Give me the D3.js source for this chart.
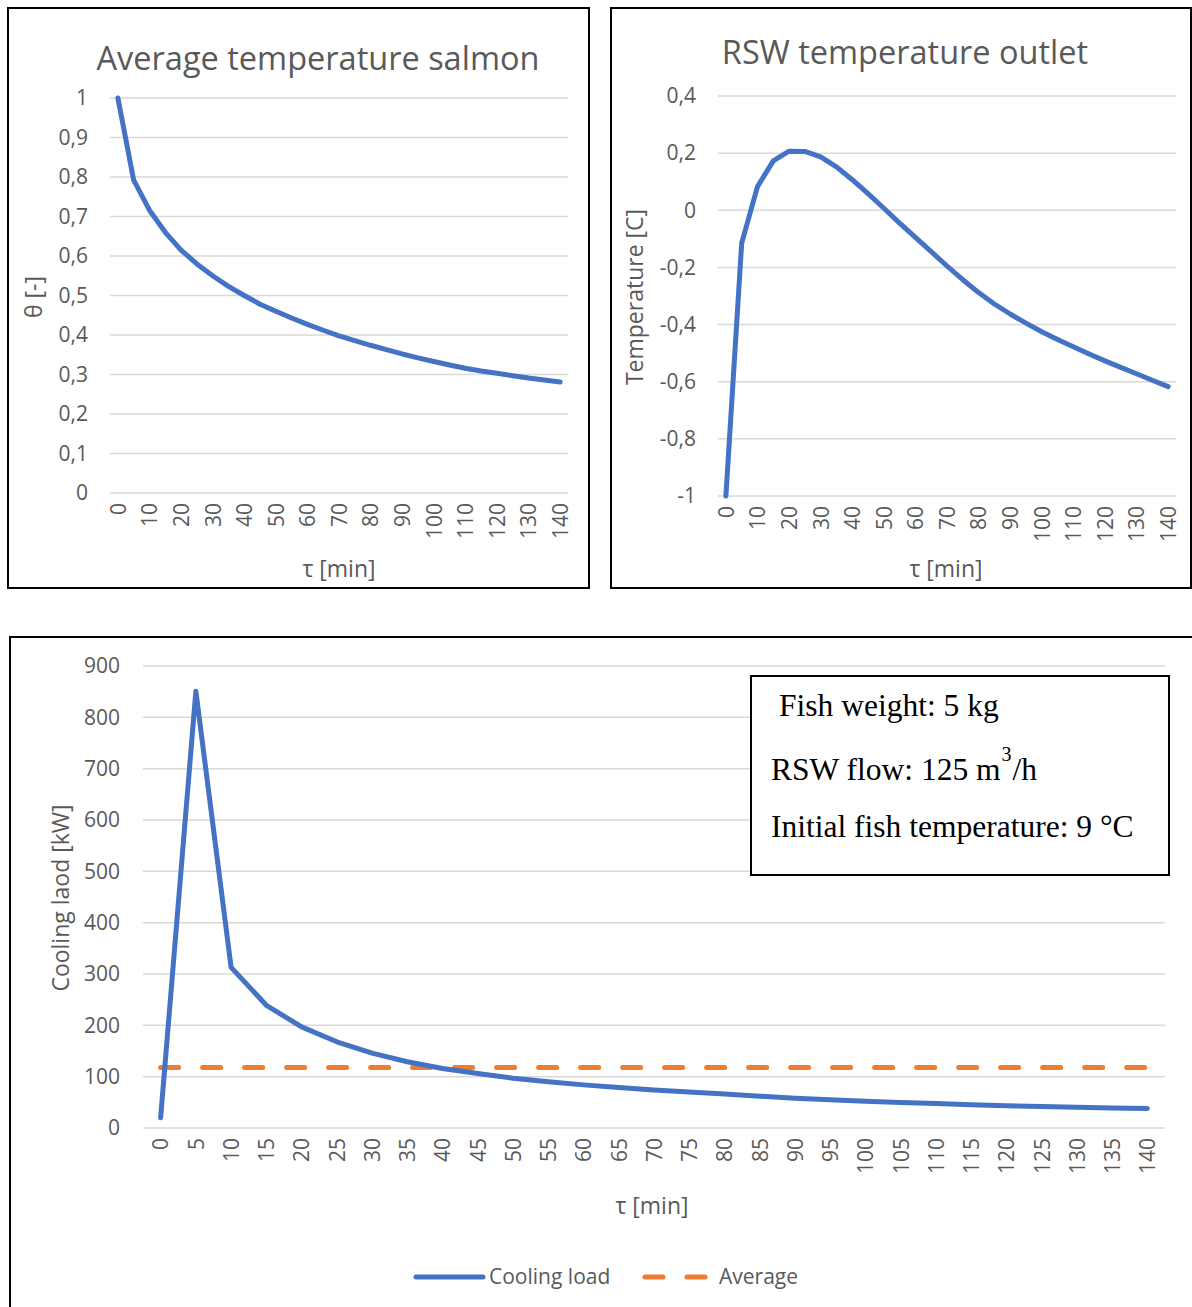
<!DOCTYPE html>
<html>
<head>
<meta charset="utf-8">
<script src="https://cdn.jsdelivr.net/npm/d3@7"></script>
<style>
  body { margin: 0; background: #fff; }
  svg text { font-family: "Open Sans", "Noto Sans", sans-serif; fill: #595959; }
  .grid line { stroke: #d9d9d9; stroke-width: 1.5; }
  .box { fill: none; stroke: #000; stroke-width: 2; }
</style>
</head>
<body>
<div id="chart"></div>
<script>
//=============DATA==============//
const minutes = [0, 5, 10, 15, 20, 25, 30, 35, 40, 45, 50, 55, 60, 65, 70,
  75, 80, 85, 90, 95, 100, 105, 110, 115, 120, 125, 130, 135, 140];

// average dimensionless temperature of the salmon
const thetaSalmon = [1.0, 0.792, 0.716, 0.66, 0.615, 0.58, 0.55, 0.523, 0.50, 0.478,
  0.46, 0.443, 0.427, 0.412, 0.398, 0.386, 0.374, 0.363, 0.352, 0.342,
  0.333, 0.324, 0.316, 0.309, 0.303, 0.297, 0.291, 0.286, 0.281];

// RSW outlet temperature [C]
const rswOutlet = [-1.0, -0.115, 0.083, 0.173, 0.207, 0.206, 0.187, 0.152, 0.107, 0.058,
  0.007, -0.045, -0.095, -0.145, -0.195, -0.243, -0.288, -0.328, -0.363, -0.395,
  -0.425, -0.452, -0.478, -0.503, -0.527, -0.55, -0.572, -0.595, -0.617];

// cooling load [kW]
const coolingLoad = [20, 851, 313, 239, 197, 168, 146, 129, 116, 106,
  97, 90, 84, 79, 74, 70, 66, 62, 58, 55,
  52, 49.5, 47.5, 45.5, 43.5, 42, 40.5, 39, 38];
const averageLoad = 118;

const topXTicks = [0, 10, 20, 30, 40, 50, 60, 70, 80, 90, 100, 110, 120, 130, 140];
const thetaTicks = [0, 0.1, 0.2, 0.3, 0.4, 0.5, 0.6, 0.7, 0.8, 0.9, 1];
const rswTicks = [-1, -0.8, -0.6, -0.4, -0.2, 0, 0.2, 0.4];
const loadTicks = [0, 100, 200, 300, 400, 500, 600, 700, 800, 900];

const infoLines = ["Fish weight: 5 kg", "RSW flow: 125 m", "Initial fish temperature: 9 °C"];

const blue = "#4472c4";
const orange = "#ed7d31";

//=============SETUP==============//
const svg = d3.select("#chart").append("svg")
  .attr("width", 1192)
  .attr("height", 1307);

const comma = d => String(d).replace(".", ",");

function drawChart(cfg) {
  const g = svg.append("g");

  g.append("rect").attr("class", "box")
    .attr("x", cfg.box[0]).attr("y", cfg.box[1])
    .attr("width", cfg.box[2]).attr("height", cfg.box[3]);

  const x = d3.scalePoint()
    .domain(minutes)
    .range([cfg.left, cfg.right])
    .padding(0.5);

  const y = d3.scaleLinear()
    .domain(cfg.yDomain)
    .range([cfg.bottom, cfg.top]);

  // gridlines
  g.append("g").attr("class", "grid")
    .selectAll("line")
    .data(cfg.yTicks)
    .join("line")
    .attr("x1", cfg.left).attr("x2", cfg.right)
    .attr("y1", d => y(d)).attr("y2", d => y(d));

  const yAxis = d3.axisLeft(y).tickValues(cfg.yTicks).tickFormat(cfg.fmt).tickSize(0).tickPadding(cfg.yPad);
  g.append("g")
    .attr("transform", "translate(" + cfg.left + ",0)")
    .call(yAxis)
    .call(a => a.select(".domain").remove())
    .selectAll("text")
      .style("font-size", cfg.tickSize + "px")
      .attr("fill", "#595959");

  const xAxis = d3.axisBottom(x).tickValues(cfg.xTicks).tickSize(0);
  g.append("g")
    .attr("transform", "translate(0," + cfg.bottom + ")")
    .call(xAxis)
    .call(a => a.select(".domain").remove())
    .selectAll("text")
      .attr("transform", "rotate(-90)")
      .attr("x", -cfg.xPad)
      .attr("y", 0)
      .attr("dy", "0.35em")
      .style("text-anchor", "end")
      .style("font-size", cfg.tickSize + "px")
      .attr("fill", "#595959");

  // d3 axes put their own font on the group, drop it so the css one wins
  g.selectAll(".tick").each(function() { d3.select(this.parentNode).attr("font-family", null); });

  if (cfg.title) {
    g.append("text")
      .attr("x", cfg.title[1]).attr("y", cfg.title[2])
      .attr("text-anchor", "middle")
      .style("font-size", "32.5px")
      .text(cfg.title[0]);
  }

  g.append("text")
    .attr("x", cfg.xLabel[1]).attr("y", cfg.xLabel[2])
    .attr("text-anchor", "middle")
    .style("font-size", "23px")
    .text(cfg.xLabel[0]);

  g.append("text")
    .attr("transform", "translate(" + cfg.yLabel[1] + "," + cfg.yLabel[2] + ") rotate(-90)")
    .attr("text-anchor", "middle")
    .style("font-size", "23px")
    .text(cfg.yLabel[0]);

  const line = d3.line()
    .x((d, i) => x(minutes[i]))
    .y(d => y(d));

  cfg.series.forEach(s => {
    g.append("path")
      .datum(s.values)
      .attr("fill", "none")
      .attr("stroke", s.color)
      .attr("stroke-width", 5)
      .attr("stroke-linejoin", "round")
      .attr("stroke-linecap", "round")
      .attr("stroke-dasharray", s.dash || null)
      .attr("d", line);
  });

  return g;
}

//=============CHARTS==============//
drawChart({
  box: [8, 8, 581, 580],
  left: 110, right: 568, top: 98, bottom: 493,
  yDomain: [0, 1], yTicks: thetaTicks, fmt: comma, yPad: 22,
  xTicks: topXTicks, xPad: 10, tickSize: 21,
  title: ["Average temperature salmon", 318, 70],
  xLabel: ["τ [min]", 339, 577],
  yLabel: ["θ [-]", 42, 297],
  series: [{ values: thetaSalmon, color: blue }]
});

drawChart({
  box: [611, 8, 580, 580],
  left: 718, right: 1176, top: 96, bottom: 496,
  yDomain: [-1, 0.4], yTicks: rswTicks, fmt: comma, yPad: 22,
  xTicks: topXTicks, xPad: 10, tickSize: 21,
  title: ["RSW temperature outlet", 905, 64],
  xLabel: ["τ [min]", 946, 577],
  yLabel: ["Temperature [C]", 643, 297],
  series: [{ values: rswOutlet, color: blue }]
});

const avgSeries = minutes.map(() => averageLoad);
drawChart({
  box: [10, 637, 1200, 700],
  left: 143, right: 1165, top: 666, bottom: 1128,
  yDomain: [0, 900], yTicks: loadTicks, fmt: d => d, yPad: 23,
  xTicks: minutes, xPad: 10, tickSize: 21,
  title: null,
  xLabel: ["τ [min]", 652, 1214],
  yLabel: ["Cooling laod [kW]", 69, 898],
  series: [
    { values: avgSeries, color: orange, dash: "18,24" },
    { values: coolingLoad, color: blue }
  ]
});

//=============INFO BOX==============//
const info = svg.append("g");
info.append("rect")
  .attr("x", 751).attr("y", 676).attr("width", 418).attr("height", 199)
  .attr("fill", "#fff").attr("stroke", "#000").attr("stroke-width", 2);

const serif = "'Liberation Serif', 'DejaVu Serif', serif";
info.selectAll("text.info")
  .data(infoLines)
  .join("text")
  .attr("class", "info")
  .attr("x", (d, i) => i === 0 ? 779 : 771)
  .attr("y", (d, i) => [716, 780, 837][i])
  .style("font-family", serif)
  .style("font-size", "31.5px")
  .style("fill", "#000")
  .text(d => d);

// superscript and unit on the flow line
const flowText = info.selectAll("text.info").filter((d, i) => i === 1);
const flowEnd = 771 + flowText.node().getComputedTextLength();
const sup = info.append("text")
  .attr("x", flowEnd + 1).attr("y", 761)
  .style("font-family", serif).style("font-size", "20px").style("fill", "#000")
  .text("3");
info.append("text")
  .attr("x", flowEnd + 2 + sup.node().getComputedTextLength()).attr("y", 780)
  .style("font-family", serif).style("font-size", "31.5px").style("fill", "#000")
  .text("/h");

//=============LEGEND==============//
const legend = svg.append("g").attr("transform", "translate(0,1277)");
legend.append("line")
  .attr("x1", 416).attr("x2", 483).attr("y1", 0).attr("y2", 0)
  .attr("stroke", blue).attr("stroke-width", 5).attr("stroke-linecap", "round");
legend.append("text")
  .attr("x", 489).attr("y", 0).attr("dy", "0.35em")
  .style("font-size", "21px")
  .text("Cooling load");
legend.append("line")
  .attr("x1", 645).attr("x2", 707).attr("y1", 0).attr("y2", 0)
  .attr("stroke", orange).attr("stroke-width", 5).attr("stroke-linecap", "round")
  .attr("stroke-dasharray", "18,24");
legend.append("text")
  .attr("x", 719).attr("y", 0).attr("dy", "0.35em")
  .style("font-size", "21px")
  .text("Average");
</script>
</body>
</html>
